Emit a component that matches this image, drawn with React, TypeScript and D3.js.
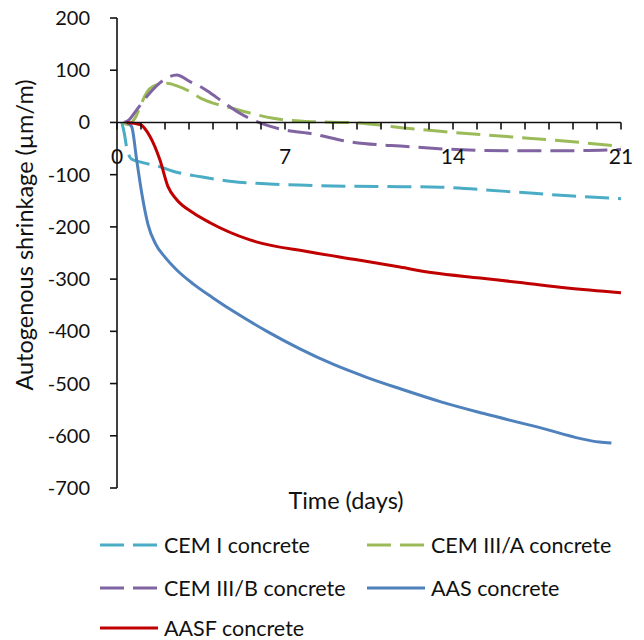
import React from "react";
import * as d3 from "d3";

const xTicks = [0, 7, 14, 21];
const yTicks = [200, 100, 0, -100, -200, -300, -400, -500, -600, -700];

const cem1Days = [0.2, 0.3, 0.4, 0.6, 1, 1.8, 2.3, 3.5, 4.8, 6, 7.6, 9.5, 11.8, 13.5, 16.2, 19, 21];
const cem1Vals = [0, -20, -47, -70, -76, -85, -93, -104, -113, -117, -120, -122, -123, -124, -132, -141, -146];

const cem3aDays = [0.25, 0.45, 0.75, 1.03, 1.24, 1.5, 2.07, 2.5, 3.0, 3.5, 4.0, 4.57, 5.54, 6.5, 7.9, 10, 12.07, 13.46, 16.24, 19, 21];
const cem3aVals = [0, -4, 8, 38, 57, 69, 75, 70, 60, 46, 37, 30, 18, 8, 2, -1, -11, -17, -27, -37, -46];

const cem3bDays = [0.3, 0.5, 0.82, 1.375, 2.0, 2.49, 3.04, 3.46, 3.875, 4.57, 5.1, 5.96, 7.33, 7.9, 9.7, 12.07, 14.15, 16.24, 19, 21];
const cem3bVals = [0, 5, 24, 57, 83, 91, 78, 69, 57, 34, 18, -1, -17, -20, -37, -46, -52, -54, -54, -52];

const aasDays = [0.4, 0.61, 0.82, 1.03, 1.29, 1.6, 2.0, 2.5, 3.2, 4, 5, 6.25, 7.6, 9, 10.4, 11.8, 13.5, 15.25, 17.5, 20.1, 20.6];
const aasVals = [0, -8, -72, -135, -195, -232, -258, -283, -310, -336, -366, -400, -433, -463, -488, -510, -535, -557, -583, -612, -614];

const aasfDays = [0.4, 0.96, 1.375, 1.79, 2.125, 2.49, 3.17, 3.875, 5.54, 8.04, 10.0, 11.79, 13.17, 15.125, 16.9, 18.75, 21];
const aasfVals = [0, -4, -27, -72, -123, -148, -173, -192, -225, -248, -263, -277, -288, -298, -307, -317, -326];

const seriesNames = ["CEM I concrete", "CEM III/A concrete", "CEM III/B concrete", "AAS concrete", "AASF concrete"];
const seriesColors = ["#4BACC6", "#9BBB59", "#8064A2", "#4F81BD", "#C00000"];
const seriesDashed = [true, true, true, false, false];
const seriesDays = [cem1Days, cem3aDays, cem3bDays, aasDays, aasfDays];
const seriesVals = [cem1Vals, cem3aVals, cem3bVals, aasVals, aasfVals];

const FONT = "Lato, 'Open Sans', sans-serif";

export default function App() {
  const x = d3.scaleLinear().domain([0, 21]).range([117, 621]);
  const y = d3.scaleLinear().domain([-700, 200]).range([488, 18]);
  const line = d3
    .line<[number, number]>()
    .x((d) => x(d[0]))
    .y((d) => y(d[1]))
    .curve(d3.curveMonotoneX);

  const minorTicks = d3.range(0, 22, 1);

  const legendPos = [
    { lx: 100, ly: 545 },
    { lx: 367, ly: 545 },
    { lx: 100, ly: 588 },
    { lx: 367, ly: 588 },
    { lx: 100, ly: 628 },
  ];

  return (
    <svg
      width={644}
      height={640}
      style={{ position: "absolute", left: 0, top: 0, background: "#fff" }}
      fontFamily={FONT}
    >
      {seriesDays.map((days, i) => {
        const pts = days.map((d, j) => [d, seriesVals[i][j]] as [number, number]);
        return (
          <path
            key={i}
            d={line(pts) || ""}
            fill="none"
            stroke={seriesColors[i]}
            strokeWidth={3}
            strokeDasharray={seriesDashed[i] ? "24 9" : undefined}
            strokeLinejoin="round"
          />
        );
      })}

      <line x1={x(0)} x2={x(0)} y1={y(200)} y2={y(-700)} stroke="#111" strokeWidth={1.6} />
      {yTicks.map((t) => (
        <g key={t}>
          <line x1={x(0) - 7} x2={x(0)} y1={y(t)} y2={y(t)} stroke="#111" strokeWidth={1.6} />
          <text x={90} y={y(t) + 7} textAnchor="end" fontSize={20} fill="#111">
            {t}
          </text>
        </g>
      ))}

      <line x1={x(0)} x2={x(21)} y1={y(0)} y2={y(0)} stroke="#111" strokeWidth={1.6} />
      {minorTicks.map((t) => (
        <line key={t} x1={x(t)} x2={x(t)} y1={y(0)} y2={y(0) + 7} stroke="#111" strokeWidth={1.6} />
      ))}
      {xTicks.map((t) => (
        <text key={t} x={x(t)} y={164} textAnchor="middle" fontSize={21} fill="#111">
          {t}
        </text>
      ))}

      <text x={346} y={509} textAnchor="middle" fontSize={23.5} fill="#111">
        Time (days)
      </text>
      <text
        transform={`translate(33, 235) rotate(-90)`}
        textAnchor="middle"
        fontSize={23.5}
        fill="#111"
      >
        Autogenous shrinkage (µm/m)
      </text>

      {seriesNames.map((name, i) => {
        const p = legendPos[i];
        return (
          <g key={name}>
            <line
              x1={p.lx}
              x2={p.lx + 58}
              y1={p.ly}
              y2={p.ly}
              stroke={seriesColors[i]}
              strokeWidth={3}
              strokeDasharray={seriesDashed[i] ? "24 9" : undefined}
            />
            <text x={p.lx + 64} y={p.ly + 7.5} fontSize={21.5} fill="#111">
              {name}
            </text>
          </g>
        );
      })}
    </svg>
  );
}
